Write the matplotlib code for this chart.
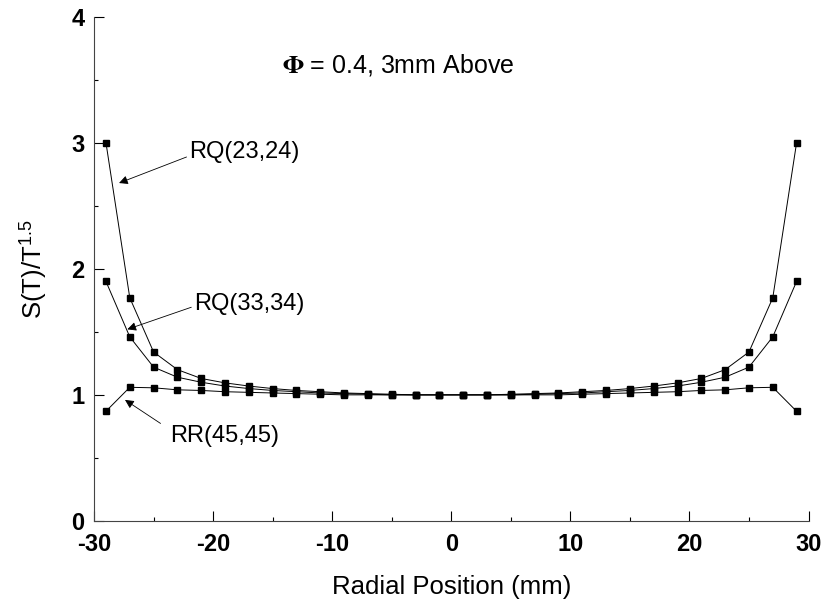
import matplotlib
matplotlib.use('Agg')
from matplotlib import pyplot as plt
from matplotlib.ticker import MultipleLocator

plt.rcParams['font.family'] = ['Liberation Sans', 'DejaVu Sans']
plt.rcParams['axes.unicode_minus'] = False
plt.rcParams['mathtext.fontset'] = 'stix'

# radial positions (mm)
radial = [-29, -27, -25, -23, -21, -19, -17, -15, -13, -11, -9, -7, -5, -3, -1,
          1, 3, 5, 7, 9, 11, 13, 15, 17, 19, 21, 23, 25, 27, 29]

rq_23_24 = [3.00, 1.77, 1.34, 1.20, 1.13, 1.095, 1.07, 1.05, 1.035, 1.025, 1.015, 1.01, 1.005, 1.0, 1.0,
            1.0, 1.0, 1.005, 1.01, 1.015, 1.025, 1.035, 1.05, 1.07, 1.095, 1.13, 1.20, 1.34, 1.77, 3.00]
rq_33_34 = [1.90, 1.46, 1.22, 1.14, 1.10, 1.07, 1.05, 1.035, 1.025, 1.015, 1.01, 1.005, 1.0, 1.0, 1.0,
            1.0, 1.0, 1.0, 1.005, 1.01, 1.015, 1.025, 1.035, 1.05, 1.07, 1.10, 1.14, 1.22, 1.46, 1.90]
rr_45_45 = [0.87, 1.06, 1.056, 1.04, 1.035, 1.025, 1.02, 1.015, 1.01, 1.005, 1.0, 1.0, 1.0, 1.0, 1.0,
            1.0, 1.0, 1.0, 1.0, 1.0, 1.005, 1.01, 1.015, 1.02, 1.025, 1.035, 1.04, 1.056, 1.06, 0.87]

fig = plt.figure(figsize=(8.25, 6.04), dpi=100)
ax = fig.add_axes([0.114, 0.1375, 0.866, 0.835])

for vals in (rq_23_24, rq_33_34, rr_45_45):
    ax.plot(radial, vals, color='black', lw=0.7, marker='s', ms=4)

ax.set_xlim(-30, 30)
ax.set_ylim(0, 4)
ax.xaxis.set_major_locator(MultipleLocator(10))
ax.xaxis.set_minor_locator(MultipleLocator(5))
ax.yaxis.set_major_locator(MultipleLocator(1))
ax.yaxis.set_minor_locator(MultipleLocator(0.5))
ax.tick_params(which='both', direction='in', width=0.8, labelsize=17)
ax.tick_params(which='major', length=7)
ax.tick_params(which='minor', length=3)
ax.tick_params(axis='x', pad=9)
ax.tick_params(axis='y', pad=7)
for lab in ax.get_xticklabels() + ax.get_yticklabels():
    lab.set_fontweight('bold')
ax.spines['top'].set_visible(False)
ax.spines['right'].set_visible(False)
for side in ('left', 'bottom'):
    ax.spines[side].set_linewidth(0.8)
    ax.spines[side].set_color('#444444')

ax.set_xlabel('Radial Position (mm)', fontsize=18.5, labelpad=13)
ax.set_ylabel(r'S(T)/T$^{\mathregular{1.5}}$', fontsize=18.5, labelpad=16)

ax.text(-4.5, 3.62, r'$\mathbf{\Phi}$ = 0.4, 3mm Above', fontsize=18, ha='center', va='center')

arrow = dict(arrowstyle='-|>', color='black', lw=0.6, mutation_scale=13, shrinkA=0, shrinkB=0)
ax.annotate('RQ(23,24)', xy=(-27.9, 2.68), xytext=(-22.0, 2.93), fontsize=17,
            va='center', arrowprops=dict(arrow, relpos=(0, 0.3)))
ax.annotate('RQ(33,34)', xy=(-27.2, 1.52), xytext=(-21.6, 1.72), fontsize=17,
            va='center', arrowprops=dict(arrow, relpos=(0, 0.4)))
ax.annotate('RR(45,45)', xy=(-27.4, 0.96), xytext=(-23.6, 0.67), fontsize=17,
            va='center', arrowprops=dict(arrow, relpos=(0, 0.8), shrinkA=6))

fig.savefig('out.png', dpi=100)
